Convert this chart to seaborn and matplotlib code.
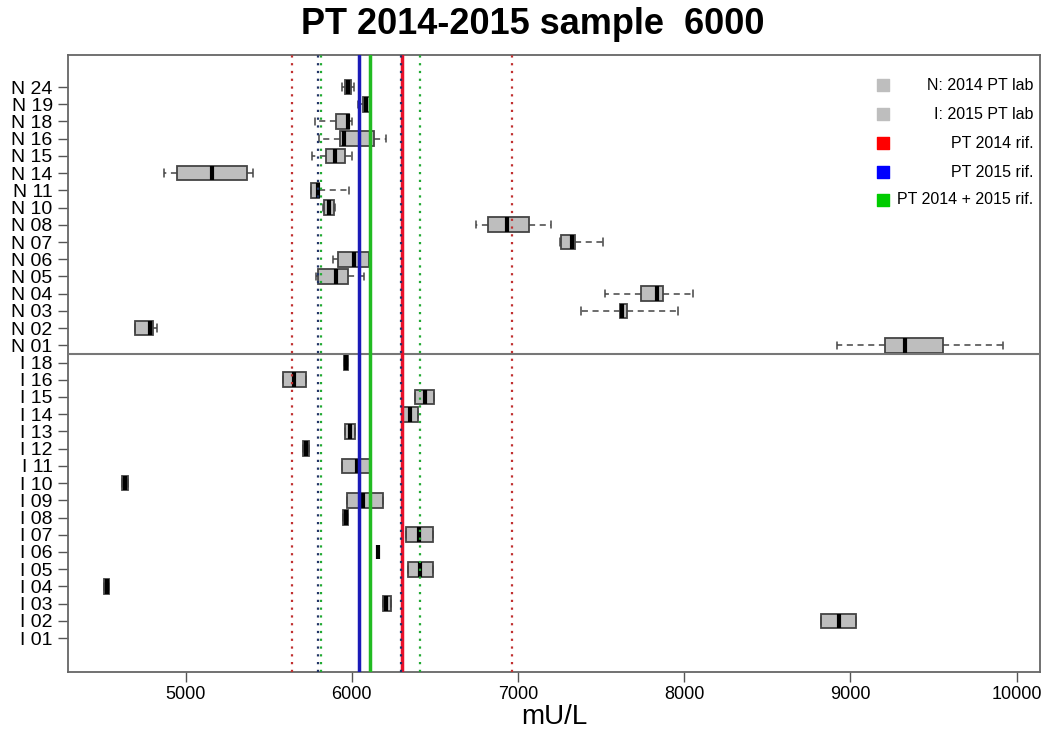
import numpy as np
import pandas as pd
import matplotlib
matplotlib.use("Agg")
import matplotlib.pyplot as plt
import seaborn as sns

# ---------------- data ----------------
labs_N = ["N 24", "N 19", "N 18", "N 16", "N 15", "N 14", "N 11", "N 10",
          "N 08", "N 07", "N 06", "N 05", "N 04", "N 03", "N 02", "N 01"]
N_lo  = [5944, 6038, 5779, 5805, 5758, 4872, 5757, 5825, 6747, 7250, 5885, 5787, 7524, 7376, 4695, 8920]
N_q1  = [5957, 6066, 5907, 5932, 5847, 4946, 5757, 5831, 6817, 7260, 5918, 5795, 7742, 7614, 4695, 9208]
N_med = [5978, 6084, 5977, 5955, 5900, 5158, 5799, 5864, 6933, 7327, 6013, 5903, 7837, 7626, 4784, 9329]
N_q3  = [5993, 6112, 5981, 6136, 5957, 5367, 5803, 5891, 7067, 7344, 6105, 5978, 7874, 7654, 4805, 9559]
N_hi  = [6016, 6112, 6001, 6206, 6004, 5407, 5981, 5897, 7200, 7512, 6112, 6076, 8051, 7960, 4829, 9916]

labs_I = ["I 18", "I 16", "I 15", "I 14", "I 13", "I 12", "I 11", "I 10", "I 09",
          "I 08", "I 07", "I 06", "I 05", "I 04", "I 03", "I 02", "I 01"]
I_lo  = [5955, 5587, 6380, 6304, 5960, 5707, 5944, 4619, 5969, 5947, 6328, 6155, 6336, 4508, 6186, 8820, None]
I_med = [5968, 5653, 6440, 6350, 5988, 5723, 6029, 4636, 6067, 5963, 6404, 6157, 6412, 4525, 6208, 8930, None]
I_hi  = [5980, 5723, 6496, 6396, 6020, 5741, 6108, 4654, 6186, 5980, 6488, 6160, 6488, 4541, 6235, 9036, None]

# reference values (centre, lower, upper)
ref_2014 = (6304, 5642, 6963)
ref_2015 = (6046, 5795, 6297)
ref_both = (6112, 5813, 6410)

x_ticks = [5000, 6000, 7000, 8000, 9000, 10000]
title = "PT 2014-2015 sample  6000"
xlabel = "mU/L"
legend_labels = ["N: 2014 PT lab", "I: 2015 PT lab", "PT 2014 rif.", "PT 2015 rif.", "PT 2014 + 2015 rif."]
legend_colors = ["#BEBEBE", "#BEBEBE", "#FF0000", "#0000FF", "#00CC00"]

# ---------------- long table ----------------
rows = []
for lab, a, b, c, d, e in zip(labs_N, N_lo, N_q1, N_med, N_q3, N_hi):
    for v in (a, b, c, d, e):
        rows.append((lab, v))
for lab, a, c, e in zip(labs_I, I_lo, I_med, I_hi):
    if a is None:
        continue
    for v in (a, a, c, e, e):
        rows.append((lab, v))
df = pd.DataFrame(rows, columns=["lab", "value"])
order = labs_N + labs_I

# ---------------- plot ----------------
sns.set_style("ticks")
plt.rcParams["font.family"] = ["Liberation Sans", "DejaVu Sans"]
plt.rcParams["text.color"] = "black"
plt.rcParams["xtick.labelcolor"] = "black"
plt.rcParams["ytick.labelcolor"] = "black"
plt.rcParams["axes.labelcolor"] = "black"

fig = plt.figure(figsize=(10.45, 7.36), dpi=100)
ax = fig.add_axes([68 / 1045, 1 - 672 / 736, (1040 - 68) / 1045, (672 - 55) / 736])

sns.boxplot(data=df, x="value", y="lab", order=order, orient="h", ax=ax,
            color="#BEBEBE", saturation=1, linecolor="#444444", linewidth=1.3,
            width=0.85, whis=(0, 100), showfliers=False,
            medianprops={"color": "black", "linewidth": 3},
            whiskerprops={"linestyle": (0, (4, 3)), "color": "#444444", "linewidth": 1.1},
            capprops={"color": "#444444", "linewidth": 1.1})

# reference lines
def ref_lines(vals, solid_col, dot_col, lw=2.5):
    c, lo, hi = vals
    ax.axvline(c, color=solid_col, lw=lw, zorder=5)
    for v in (lo, hi):
        ax.axvline(v, color=dot_col, lw=1.6, ls=(0, (1, 2.5)), zorder=6)

ref_lines(ref_2014, "#E8102A", "#C03030")
ref_lines(ref_both, "#22BB22", "#22AA33")
ref_lines(ref_2015, "#1A1AB8", "#223366")

ax.axhline(15.5, color="#777777", lw=1.5, zorder=4)

ax.set_xlim(4293, 10140)
ax.set_ylim(33.97, -1.86)
ax.set_xticks(x_ticks)
ax.set_xticklabels([str(t) for t in x_ticks], fontsize=13, color="black")
ax.tick_params(axis="y", labelsize=14, length=7, width=1, color="#555555",
               pad=4, labelcolor="black")
ax.tick_params(axis="x", length=7, width=1, color="#555555", pad=3, labelcolor="black")
for s in ax.spines.values():
    s.set_color("#666666")
    s.set_linewidth(1.3)
ax.set_ylabel("")
ax.set_xlabel(xlabel, fontsize=20, labelpad=1, color="black")
fig.text(533 / 1045, 1 - 24 / 736, title, fontsize=26, fontweight="bold",
         ha="center", va="center", color="black")

# legend drawn manually (markers left, text right aligned)
ys = [0.951, 0.904, 0.857, 0.810, 0.765]
for y, lab, col in zip(ys, legend_labels, legend_colors):
    ax.scatter([0.838], [y], transform=ax.transAxes, marker="s", s=70,
               color=col, clip_on=False, zorder=10)
    ax.text(0.993, y, lab, transform=ax.transAxes, ha="right", va="center",
            fontsize=11.5, zorder=10, color="black")

fig.savefig("out.png", dpi=100)
